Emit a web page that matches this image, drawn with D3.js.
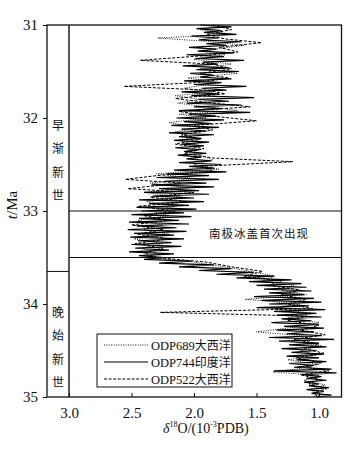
<!DOCTYPE html>
<html>
<head>
<meta charset="utf-8">
<script src="https://cdn.jsdelivr.net/npm/d3@7"></script>
<style>
  body { margin: 0; background: #fff; }
  text { fill: #111; }
</style>
</head>
<body>
<svg id="chart" width="360" height="450"></svg>
<script>
// age (Ma) and d18O values
const odp744 = [
  [31.00,1.95],[31.02,1.70],[31.04,1.98],[31.06,1.78],[31.08,1.92],[31.10,1.66],[31.12,2.02],[31.14,1.80],
  [31.16,1.96],[31.18,1.62],[31.20,1.90],[31.22,1.74],[31.24,2.04],[31.26,1.82],[31.28,1.97],[31.30,1.68],
  [31.32,2.06],[31.34,1.76],[31.36,1.99],[31.38,1.60],[31.40,1.93],[31.42,1.81],[31.44,2.09],[31.46,1.72],
  [31.48,1.98],[31.50,1.64],[31.52,2.03],[31.54,1.85],[31.56,1.95],[31.58,1.70],[31.60,2.08],[31.62,1.78],
  [31.64,2.00],[31.66,1.58],[31.68,1.94],[31.70,1.74],[31.72,2.10],[31.74,1.80],[31.76,2.02],[31.78,1.52],
  [31.80,1.96],[31.82,1.72],[31.84,2.06],[31.86,1.62],[31.88,2.00],[31.90,1.78],[31.92,2.12],[31.94,1.55],
  [31.96,2.04],[31.98,1.82],[32.00,2.14],[32.02,1.76],[32.04,2.08],[32.06,1.86],[32.08,2.18],[32.10,1.80],
  [32.12,2.10],[32.14,1.90],[32.16,2.20],[32.18,1.84],[32.20,2.12],[32.22,1.94],[32.24,2.16],[32.26,1.88],
  [32.28,2.10],[32.30,1.92],[32.32,2.15],[32.34,1.96],[32.36,2.08],[32.38,1.90],[32.40,2.13],[32.42,1.94],
  [32.44,2.06],[32.46,1.86],[32.48,2.12],[32.50,1.78],[32.52,2.04],[32.54,1.84],[32.56,2.16],[32.58,1.74],
  [32.60,2.22],[32.62,1.88],[32.64,2.30],[32.66,1.80],[32.68,2.24],[32.70,1.90],[32.72,2.34],[32.74,1.84],
  [32.76,2.28],[32.78,1.96],[32.80,2.40],[32.82,1.88],[32.84,2.33],[32.86,2.00],[32.88,2.44],[32.90,1.92],
  [32.92,2.36],[32.94,2.04],[32.96,2.46],[32.98,1.98],[33.00,2.42],[33.02,2.08],[33.04,2.50],[33.06,2.02],
  [33.08,2.44],[33.10,2.12],[33.12,2.52],[33.14,2.04],[33.16,2.46],[33.18,2.14],[33.20,2.53],[33.22,2.06],
  [33.24,2.48],[33.26,2.16],[33.28,2.51],[33.30,2.08],[33.32,2.45],[33.34,2.18],[33.36,2.50],[33.38,2.10],
  [33.40,2.47],[33.42,2.20],[33.44,2.52],[33.46,2.16],[33.48,2.44],[33.50,2.24],[33.52,2.40],[33.54,2.02],
  [33.56,2.28],[33.58,1.84],[33.60,2.12],[33.62,1.70],[33.64,1.96],[33.66,1.52],[33.68,1.82],[33.70,1.36],
  [33.72,1.66],[33.74,1.22],[33.76,1.56],[33.78,1.14],[33.80,1.50],[33.82,1.10],[33.84,1.44],[33.86,1.06],
  [33.88,1.40],[33.90,1.12],[33.92,1.52],[33.94,1.04],[33.96,1.46],[33.98,0.98],[34.00,1.40],[34.02,1.08],
  [34.04,1.50],[34.06,0.95],[34.08,1.36],[34.10,1.02],[34.12,1.34],[34.14,0.98],[34.16,1.30],[34.18,1.06],
  [34.20,1.38],[34.22,1.00],[34.24,1.28],[34.26,0.96],[34.28,1.34],[34.30,1.04],[34.32,1.26],[34.34,0.98],
  [34.36,1.40],[34.38,0.88],[34.40,1.32],[34.42,1.00],[34.44,1.24],[34.46,0.94],[34.48,1.30],[34.50,1.02],
  [34.52,1.22],[34.54,0.96],[34.56,1.26],[34.58,1.00],[34.60,1.18],[34.62,0.94],[34.64,1.24],[34.66,1.04],
  [34.68,1.20],[34.70,0.90],[34.72,1.36],[34.74,0.86],[34.76,1.14],[34.78,0.98],[34.80,1.10],[34.82,0.94],
  [34.84,1.12],[34.86,1.00],[34.88,1.08],[34.90,0.92],[34.92,1.10],[34.94,0.96],[34.96,1.06],[34.98,0.90],
  [35.00,1.02]
];
const odp689 = [
  [31.00,1.80],[31.05,1.95],[31.10,1.70],[31.14,2.29],[31.18,1.85],[31.22,1.60],[31.27,1.90],[31.32,1.75],
  [31.37,2.00],[31.42,1.70],[31.47,1.95],[31.52,1.65],[31.57,2.05],[31.62,1.80],[31.68,2.08],[31.72,1.85],
  [31.76,2.15],[31.80,1.95],[31.84,2.13],[31.88,1.90],[31.92,1.65],[31.96,2.12],[32.00,1.90],[32.05,2.20],
  [32.10,1.95],[32.15,2.15],[32.20,2.02],[32.25,2.10],[32.30,1.95],[32.35,2.05],[32.40,1.95],[32.45,1.85],
  [32.50,2.00],[32.55,1.80],[32.60,2.30],[32.65,2.00],[32.70,2.35],[32.75,2.05],[32.80,2.40],[32.85,2.10],
  [32.90,2.38],[32.95,2.15],[33.00,2.35],[33.05,2.20],[33.10,2.45],[33.15,2.25],[33.20,2.40],[33.25,2.20],
  [33.30,2.48],[33.35,2.25],[33.40,2.42],[33.45,2.30],[33.50,2.35],[33.55,2.00],[33.60,1.75],[33.65,1.55],
  [33.70,1.35],[33.75,1.45],[33.80,1.20],[33.85,1.30],[33.90,1.10],[33.95,1.59],[34.00,1.15],[34.05,1.35],
  [34.10,1.05],[34.15,1.25],[34.20,1.00],[34.25,1.20],[34.30,1.50],[34.35,1.05],[34.40,1.22],[34.45,0.98],
  [34.50,1.15],[34.55,1.02],[34.60,1.25],[34.65,1.00],[34.70,1.18],[34.73,1.37],[34.77,1.00],[34.82,1.12],
  [34.87,0.95],[34.92,1.08],[34.97,0.98],[35.00,1.05]
];
const odp522 = [
  [31.00,1.85],[31.05,1.70],[31.10,1.90],[31.15,1.75],[31.19,1.46],[31.24,1.80],[31.29,1.65],[31.33,1.92],
  [31.38,2.43],[31.42,1.85],[31.47,1.70],[31.52,1.95],[31.57,1.72],[31.62,1.98],[31.66,2.56],[31.70,1.90],
  [31.74,1.75],[31.79,2.15],[31.84,1.85],[31.88,1.55],[31.93,2.12],[31.98,1.85],[32.03,1.50],[32.08,2.00],
  [32.13,1.85],[32.18,2.10],[32.23,1.95],[32.28,2.15],[32.33,1.92],[32.38,2.08],[32.43,1.85],[32.47,1.21],
  [32.52,1.95],[32.57,1.85],[32.62,2.30],[32.66,2.55],[32.70,2.10],[32.76,2.53],[32.80,2.00],[32.85,2.35],
  [32.90,2.05],[32.95,2.45],[33.00,2.15],[33.05,2.40],[33.10,2.20],[33.15,2.50],[33.20,2.25],[33.25,2.45],
  [33.30,2.20],[33.35,2.47],[33.40,2.25],[33.45,2.40],[33.50,2.30],[33.55,1.90],[33.60,1.70],[33.65,1.45],
  [33.70,1.60],[33.75,1.30],[33.80,1.40],[33.85,1.15],[33.90,1.30],[33.95,1.10],[34.00,1.25],[34.05,1.05],
  [34.09,2.27],[34.13,1.10],[34.18,1.25],[34.23,1.00],[34.28,1.15],[34.33,0.95],[34.38,1.20],[34.43,1.00],
  [34.48,1.12],[34.53,0.96],[34.58,1.18],[34.63,0.98],[34.68,1.10],[34.72,0.92],[34.76,1.15],[34.81,1.00],
  [34.86,1.08],[34.91,0.94],[34.96,1.05],[35.00,1.00]
];

const xTicks = [3.0, 2.5, 2.0, 1.5, 1.0];
const yTicks = [31, 32, 33, 34, 35];
const epochNames = ["早渐新世", "晚始新世"];
const epochMid = [32.46, 34.47];
const epochBoundary = 33.65;
const iceBand = [33.0, 33.5];
const iceLabel = "南极冰盖首次出现";
const seriesNames = ["ODP689大西洋", "ODP744印度洋", "ODP522大西洋"];

const svg = d3.select("#chart");
const serif = "'Liberation Serif', 'DejaVu Serif', serif";
const cjk = "'Noto Sans CJK SC', sans-serif";

const frameLeft = 47, plotLeft = 69;
const x = d3.scaleLinear().domain([3.0, 0.82]).range([plotLeft, 341.5]);
const y = d3.scaleLinear().domain([31, 35]).range([25, 397]);
const frameRight = x.range()[1], frameTop = y(31), frameBottom = y(35);

// data lines
const line = d3.line().x(d => x(d[1])).y(d => y(d[0]));
const series = [
  { data: odp689, dash: "1,1.4", w: 0.9 },
  { data: odp744, dash: null, w: 1.2 },
  { data: odp522, dash: "3,1.6", w: 1.0 }
];
svg.append("g").selectAll("path")
  .data(series)
  .enter().append("path")
  .attr("d", d => line(d.data))
  .attr("fill", "none")
  .attr("stroke", "#000")
  .attr("stroke-width", d => d.w)
  .attr("stroke-dasharray", d => d.dash);

// frame
const frame = svg.append("g").attr("stroke", "#111").attr("fill", "none");
frame.append("rect").attr("x", frameLeft).attr("y", frameTop)
  .attr("width", frameRight - frameLeft).attr("height", frameBottom - frameTop).attr("stroke-width", 1.3);
frame.append("line").attr("x1", plotLeft).attr("x2", plotLeft).attr("y1", frameTop).attr("y2", frameBottom).attr("stroke-width", 1.4);
frame.append("line").attr("x1", frameLeft).attr("x2", plotLeft)
  .attr("y1", y(epochBoundary)).attr("y2", y(epochBoundary));
iceBand.forEach(a => {
  frame.append("line").attr("x1", plotLeft).attr("x2", frameRight)
    .attr("y1", y(a)).attr("y2", y(a)).attr("stroke-width", 1.1);
});

// y axis
const yAxis = svg.append("g")
  .attr("transform", `translate(${frameLeft},0)`)
  .call(d3.axisLeft(y).tickValues(yTicks).tickFormat(d3.format("d")).tickSize(4).tickPadding(5));
yAxis.select(".domain").remove();
yAxis.selectAll("line").attr("stroke", "#111");
yAxis.selectAll("text").attr("font-family", serif).attr("font-size", 15).attr("fill", "#111");

// x axis (ticks pointing inward)
const xAxis = svg.append("g")
  .attr("transform", `translate(0,${frameBottom})`)
  .call(d3.axisBottom(x).tickValues(xTicks).tickFormat(d3.format(".1f")).tickSize(-4).tickPadding(10));
xAxis.select(".domain").remove();
xAxis.selectAll("line").attr("stroke", "#111");
xAxis.selectAll("text").attr("font-family", serif).attr("font-size", 15).attr("fill", "#111");

// axis titles
const xt = svg.append("text").attr("x", 163).attr("y", 433)
  .attr("font-family", serif).attr("font-size", 14);
xt.append("tspan").attr("font-style", "italic").text("δ");
xt.append("tspan").attr("font-size", 8).attr("dy", -6).text("18");
xt.append("tspan").attr("dy", 6).text("O/(10");
xt.append("tspan").attr("font-size", 8).attr("dy", -6).text("-3");
xt.append("tspan").attr("dy", 6).text("PDB)");

const yt = svg.append("text")
  .attr("transform", "translate(17,205) rotate(-90)")
  .attr("text-anchor", "middle")
  .attr("font-family", serif).attr("font-size", 15);
yt.append("tspan").attr("font-style", "italic").text("t");
yt.append("tspan").text("/Ma");

// epoch labels, one character per line
epochNames.forEach((name, i) => {
  const chars = Array.from(name);
  const mid = y(epochMid[i]);
  chars.forEach((c, j) => {
    svg.append("text")
      .attr("x", (frameLeft + plotLeft) / 2)
      .attr("y", mid + (j - (chars.length - 1) / 2) * 23.5)
      .attr("dy", "0.36em")
      .attr("text-anchor", "middle")
      .attr("font-family", cjk).attr("font-size", 12)
      .text(c);
  });
});

// ice sheet label
svg.append("text")
  .attr("x", 259).attr("y", y((iceBand[0] + iceBand[1]) / 2))
  .attr("dy", "0.36em").attr("text-anchor", "middle")
  .attr("font-family", cjk).attr("font-size", 11.5)
  .attr("letter-spacing", 1)
  .text(iceLabel);

// legend
const lg = svg.append("g").attr("transform", "translate(97,334)");
lg.append("rect").attr("width", 135).attr("height", 53)
  .attr("fill", "#fff").attr("stroke", "#111").attr("stroke-width", 1);
seriesNames.forEach((name, i) => {
  const yy = 11 + i * 17;
  lg.append("line").attr("x1", 7).attr("x2", 51).attr("y1", yy).attr("y2", yy)
    .attr("stroke", "#000").attr("stroke-width", series[i].w)
    .attr("stroke-dasharray", series[i].dash);
  const t = lg.append("text").attr("x", 54).attr("y", yy).attr("dy", "0.36em")
    .attr("font-size", 12.5);
  t.append("tspan").attr("font-family", serif).text(name.slice(0, 6));
  t.append("tspan").attr("font-family", cjk).attr("font-size", 12).text(name.slice(6));
});
</script>
</body>
</html>
